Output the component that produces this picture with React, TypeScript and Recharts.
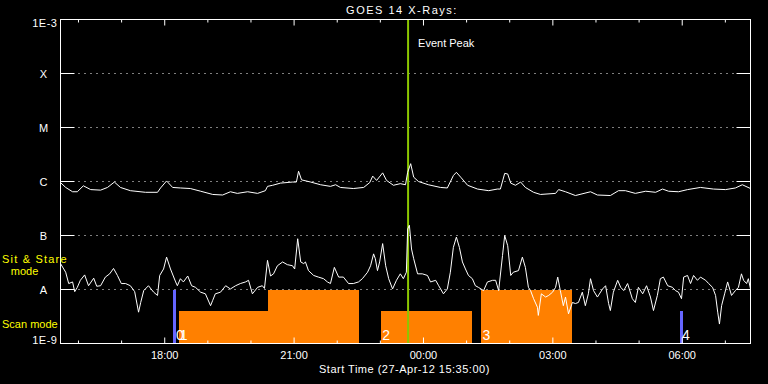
import React from "react";
import {
  LineChart,
  Line,
  XAxis,
  YAxis,
  CartesianGrid,
  ReferenceArea,
  ReferenceLine,
} from "recharts";

// time axis: hours since start (27-Apr-12 15:35:00), flux as log10(W/m^2)
const START_CLOCK = 15 + 35 / 60;
const tickClock = [16, 17, 18, 19, 20, 21, 22, 23, 0, 1, 2, 3, 4, 5, 6, 7];
const decadeExp = [-9, -8, -7, -6, -5, -4, -3];
const decadeNames = ["1E-9", "A", "B", "C", "M", "X", "1E-3"];

// GOES long channel (1-8 A)
const longTime = [
  0, 0.12, 0.28, 0.39, 0.53, 0.7, 0.93, 1.09, 1.25, 1.39, 1.62, 1.97, 2.25, 2.32,
  2.46, 2.6, 2.78, 3.01, 3.25, 3.53, 3.76, 3.94, 4.1, 4.34, 4.57, 4.75, 4.8, 4.92,
  5.1, 5.38, 5.47, 5.52, 5.59, 5.8, 6.03, 6.26, 6.38, 6.49, 6.79, 7.03, 7.17, 7.24,
  7.33, 7.47, 7.56, 7.72, 7.88, 8.0, 8.05, 8.12, 8.19, 8.3, 8.53, 8.81, 8.97, 9.11,
  9.18, 9.28, 9.44, 9.67, 9.93, 10.13, 10.2, 10.3, 10.37, 10.44, 10.55, 10.67,
  10.78, 10.97, 11.13, 11.48, 11.55, 11.71, 11.94, 12.29, 12.45, 12.75, 12.94,
  13.1, 13.33, 13.57, 13.8, 13.96, 14.1, 14.33, 14.54, 14.84, 15.14, 15.42, 15.65,
  15.81, 16.0,
];
const longFlux = [
  -6.02, -6.11, -6.19, -6.19, -6.08, -6.15, -6.16, -6.11, -6.01, -6.11, -6.17,
  -6.2, -6.2, -6.12, -5.99, -6.11, -6.12, -6.13, -6.18, -6.24, -6.25, -6.19, -6.22,
  -6.19, -6.22, -6.17, -6.09, -6.07, -6.03, -6.01, -6.01, -5.81, -5.97, -6.01,
  -6.06, -6.09, -6.06, -6.11, -6.13, -6.11, -6.02, -5.9, -5.98, -5.84, -5.98,
  -6.07, -6.04, -6.06, -5.83, -5.67, -5.92, -6.0, -6.06, -6.11, -6.12, -5.89,
  -5.83, -5.92, -6.07, -6.14, -6.17, -6.14, -6.14, -5.85, -5.86, -6.03, -6.07,
  -6.01, -6.11, -6.2, -6.24, -6.22, -6.15, -6.19, -6.26, -6.19, -6.25, -6.26,
  -6.17, -6.17, -6.22, -6.18, -6.2, -6.14, -6.18, -6.19, -6.15, -6.11, -6.14,
  -6.15, -6.12, -6.06, -6.13,
];

// GOES short channel (0.5-4 A)
const shortTime = [
  0, 0.12, 0.19, 0.28, 0.33, 0.39, 0.46, 0.56, 0.65, 0.77, 0.84, 0.93, 1.04, 1.14,
  1.23, 1.32, 1.41, 1.51, 1.62, 1.72, 1.81, 1.86, 1.93, 2.04, 2.16, 2.25, 2.3,
  2.39, 2.46, 2.55, 2.67, 2.71, 2.78, 2.85, 2.95, 3.04, 3.13, 3.25, 3.36, 3.48,
  3.53, 3.59, 3.71, 3.83, 3.94, 4.06, 4.17, 4.29, 4.36, 4.45, 4.57, 4.68, 4.73,
  4.8, 4.87, 4.94, 5.03, 5.15, 5.26, 5.38, 5.43, 5.5, 5.57, 5.64, 5.68, 5.75,
  5.87, 5.98, 6.1, 6.19, 6.26, 6.35, 6.45, 6.56, 6.68, 6.79, 6.91, 7.0, 7.12,
  7.19, 7.26, 7.3, 7.35, 7.4, 7.47, 7.54, 7.61, 7.7, 7.79, 7.88, 7.95, 8.02, 8.05,
  8.09, 8.14, 8.19, 8.28, 8.39, 8.51, 8.58, 8.7, 8.77, 8.88, 8.97, 9.04, 9.11,
  9.18, 9.25, 9.32, 9.39, 9.46, 9.55, 9.62, 9.69, 9.81, 9.9, 10.02, 10.09, 10.16,
  10.25, 10.3, 10.37, 10.44, 10.5, 10.62, 10.71, 10.78, 10.85, 10.9, 10.97, 11.06,
  11.08, 11.15, 11.25, 11.32, 11.41, 11.48, 11.53, 11.59, 11.66, 11.71, 11.78,
  11.87, 11.94, 12.01, 12.1, 12.17, 12.24, 12.29, 12.36, 12.45, 12.57, 12.64,
  12.71, 12.75, 12.82, 12.92, 12.99, 13.06, 13.15, 13.26, 13.33, 13.4, 13.5,
  13.59, 13.68, 13.75, 13.84, 13.91, 13.98, 14.08, 14.19, 14.26, 14.33, 14.4,
  14.45, 14.54, 14.61, 14.68, 14.77, 14.84, 14.96, 15.03, 15.12, 15.19, 15.24,
  15.28, 15.33, 15.4, 15.47, 15.56, 15.65, 15.72, 15.79, 15.84, 15.91, 15.95, 16.0,
];
const shortFlux = [
  -7.52, -7.68, -7.89, -7.86, -8.04, -7.96, -7.83, -7.73, -7.93, -7.79, -7.94,
  -7.93, -7.77, -7.71, -7.61, -7.74, -7.89, -7.89, -7.93, -8.04, -8.42, -8.24,
  -8.02, -7.93, -8.05, -8.11, -7.74, -7.62, -7.4, -7.62, -7.86, -7.93, -7.8, -7.86,
  -7.75, -7.93, -7.96, -8.05, -8.08, -8.3, -8.2, -8.08, -8.05, -7.93, -7.99, -7.93,
  -7.89, -7.86, -7.83, -8.08, -7.96, -7.93, -7.98, -7.46, -7.75, -7.71, -7.56,
  -7.49, -7.54, -7.56, -7.62, -7.06, -7.49, -7.52, -7.49, -7.65, -7.74, -7.77,
  -7.8, -7.86, -7.89, -7.59, -7.77, -7.77, -7.89, -7.89, -7.86, -7.8, -7.68, -7.56,
  -7.34, -7.43, -7.65, -7.49, -7.15, -7.56, -7.8, -7.99, -7.83, -7.71, -7.8, -7.68,
  -6.88, -6.81, -7.25, -7.43, -7.71, -7.71, -7.74, -7.86, -7.83, -7.93, -8.08,
  -7.99, -7.68, -7.22, -7.03, -7.22, -7.49, -7.62, -7.74, -7.8, -7.93, -7.96,
  -8.02, -7.86, -7.83, -7.83, -8.02, -7.37, -7.0, -7.19, -7.74, -7.68, -7.65, -7.4,
  -7.59, -7.96, -8.02, -8.17, -8.33, -8.48, -8.08, -8.14, -8.11, -8.05, -7.96,
  -7.77, -8.02, -8.3, -8.14, -8.45, -8.24, -8.26, -8.24, -8.05, -8.3, -8.08, -7.8,
  -8.02, -8.14, -7.99, -7.93, -8.26, -8.39, -8.05, -7.83, -7.96, -8.02, -7.89,
  -8.17, -8.24, -7.96, -8.08, -7.93, -8.14, -8.39, -8.11, -7.8, -7.77, -7.93,
  -7.96, -8.02, -8.05, -8.17, -7.77, -7.74, -7.89, -7.74, -7.83, -7.77, -7.83,
  -7.89, -7.96, -8.11, -8.42, -8.64, -8.3, -8.08, -7.86, -8.11, -8.02, -7.96,
  -7.71, -7.83, -7.89, -7.8, -7.99,
];

// observing blocks (hours since start)
const blockStart = [2.74, 4.82, 7.44, 9.76];
const blockEnd = [4.82, 6.93, 9.55, 11.87];
const blockMode = ["scan", "stare", "scan", "stare"];
const blockLabel = ["1", "", "2", "3"];
const markerTime = [2.655, 14.39];
const markerMode = ["stare", "scan"];
const markerLabel = ["0", "4"];
const modeLevel: Record<string, number> = { scan: -8.4, stare: -8 };
const eventPeak = 8.06;

const longData = longTime.map((t, i) => ({ t, v: longFlux[i] }));
const shortData = shortTime.map((t, i) => ({ t, v: shortFlux[i] }));
const tickHours = tickClock.map((c) => (c - START_CLOCK + 24) % 24);
const tickText = tickClock.map((c) =>
  c % 3 === 0 ? `${String(c).padStart(2, "0")}:00` : ""
);

const W = 768;
const H = 384;
const PLOT = { left: 60.5, top: 19.5, right: 750.5, bottom: 343.5 };
const FONT = "'Liberation Sans', Arial, sans-serif";

function TimeTick(props: any) {
  const { x, payload } = props;
  const i = tickHours.findIndex((h) => Math.abs(h - payload.value) < 1e-6);
  const label = tickText[i] || "";
  const len = label ? 6 : 3;
  return (
    <g>
      <line x1={x} x2={x} y1={PLOT.bottom} y2={PLOT.bottom - len} stroke="#fff" />
      <line x1={x} x2={x} y1={PLOT.top} y2={PLOT.top + len} stroke="#fff" />
      {label && (
        <text x={x} y={358.5} textAnchor="middle" fill="#fff" fontSize={11}>
          {label}
        </text>
      )}
    </g>
  );
}

function FluxTick(props: any) {
  const { y, payload } = props;
  const i = decadeExp.indexOf(payload.value);
  const name = decadeNames[i];
  if (i === 0 || i === decadeExp.length - 1) {
    return (
      <text
        x={57.5}
        y={i === 0 ? y : y + 7.2}
        textAnchor="end"
        fill="#fff"
        fontSize={11}
        letterSpacing={0.5}
      >
        {name}
      </text>
    );
  }
  return (
    <g>
      <line x1={PLOT.left} x2={PLOT.left + 14} y1={y} y2={y} stroke="#fff" />
      <line x1={PLOT.right - 14} x2={PLOT.right} y1={y} y2={y} stroke="#fff" />
      <text x={43.5} y={y + 4.5} textAnchor="middle" fill="#fff" fontSize={11}>
        {name}
      </text>
    </g>
  );
}

const numLabel = (text: string) => (p: any) =>
  text ? (
    <text x={p.viewBox.x + 1} y={339.5} fill="#fff" fontSize={14}>
      {text}
    </text>
  ) : null;

export default function App() {
  return (
    <div
      style={{
        position: "absolute",
        left: 0,
        top: 0,
        width: W,
        height: H,
        background: "#000",
        fontFamily: FONT,
      }}
    >
      <LineChart
        width={W}
        height={H}
        margin={{ top: 19.5, right: 17.5, bottom: 0.5, left: 0.5 }}
      >
        <CartesianGrid vertical={false} stroke="#fff" strokeDasharray="1 5" />
        <XAxis
          dataKey="t"
          type="number"
          domain={[0, 16]}
          ticks={tickHours}
          interval={0}
          height={40}
          tick={TimeTick}
          tickLine={false}
          axisLine={false}
          allowDataOverflow
        />
        <YAxis
          type="number"
          domain={[-9, -3]}
          ticks={decadeExp}
          interval={0}
          width={60}
          tick={FluxTick}
          tickLine={false}
          axisLine={false}
          allowDataOverflow
        />
        {blockStart.map((s, i) => (
          <ReferenceArea
            key={"b" + i}
            x1={s}
            x2={blockEnd[i]}
            y1={-9}
            y2={modeLevel[blockMode[i]]}
            fill="#ff8000"
            fillOpacity={1}
            stroke="none"
            shapeRendering="crispEdges"
            label={numLabel(blockLabel[i])}
          />
        ))}
        {markerTime.map((t, i) => (
          <ReferenceLine
            key={"m" + i}
            segment={[
              { x: t, y: -9 },
              { x: t, y: modeLevel[markerMode[i]] },
            ]}
            stroke="#6666ff"
            strokeWidth={3}
            shapeRendering="crispEdges"
            label={numLabel(markerLabel[i])}
          />
        ))}
        <ReferenceLine
          x={eventPeak}
          stroke="#8cc800"
          strokeWidth={2}
          label={(p: any) => (
            <text x={p.viewBox.x + 10} y={PLOT.top + 27} fill="#fff" fontSize={11}>
              Event Peak
            </text>
          )}
        />
        <Line
          data={longData}
          dataKey="v"
          type="linear"
          stroke="#fff"
          strokeWidth={1}
          dot={false}
          isAnimationActive={false}
        />
        <Line
          data={shortData}
          dataKey="v"
          type="linear"
          stroke="#fff"
          strokeWidth={1}
          dot={false}
          isAnimationActive={false}
        />
      </LineChart>
      <svg
        width={W}
        height={H}
        style={{ position: "absolute", left: 0, top: 0, pointerEvents: "none" }}
      >
        <rect
          x={PLOT.left}
          y={PLOT.top}
          width={PLOT.right - PLOT.left}
          height={PLOT.bottom - PLOT.top}
          fill="none"
          stroke="#fff"
        />
        <text x={402} y={13.5} textAnchor="middle" fill="#fff" fontSize={11} letterSpacing={1.5}>
          GOES 14 X-Rays:
        </text>
        <text x={319} y={372.5} fill="#fff" fontSize={11} letterSpacing={0.5}>
          Start Time (27-Apr-12 15:35:00)
        </text>
        <text x={2} y={262.5} fill="#ffff00" fontSize={11} letterSpacing={1.2}>
          Sit &amp; Stare
        </text>
        <text x={24.5} y={274.5} textAnchor="middle" fill="#ffff00" fontSize={11}>
          mode
        </text>
        <text x={2} y={327.5} fill="#ffff00" fontSize={11}>
          Scan mode
        </text>
      </svg>
    </div>
  );
}
